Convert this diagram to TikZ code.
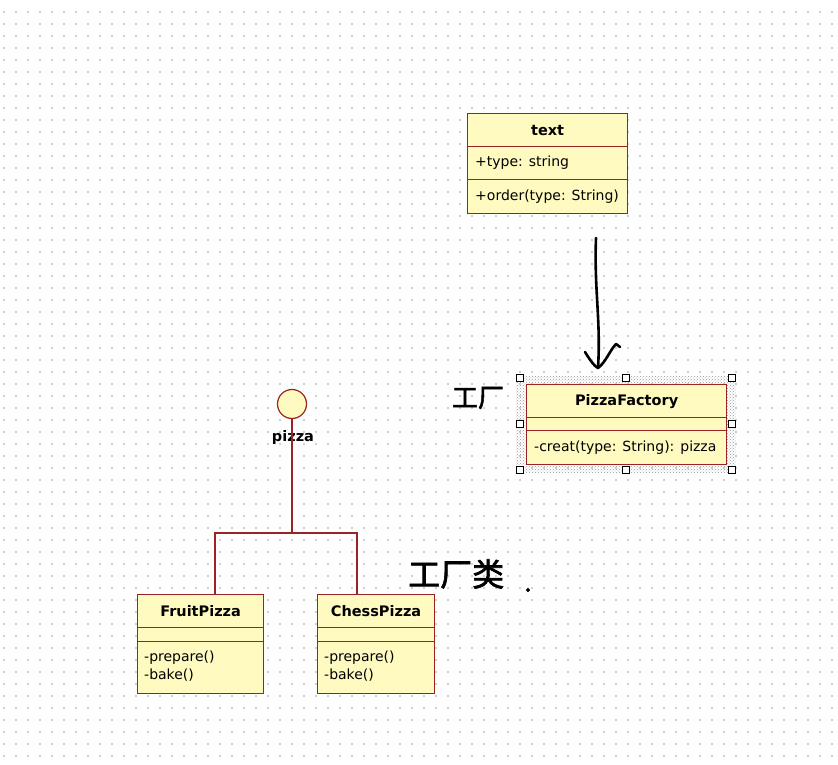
\documentclass[tikz,border=0pt]{standalone}
\usepackage{fontspec}
\setmainfont{DejaVu Sans}
\newfontfamily\cjk[FakeBold=2]{Noto Sans CJK SC}
\usetikzlibrary{patterns}
\definecolor{umlfill}{RGB}{255,250,192}
\definecolor{umlline}{RGB}{155,35,35}
\definecolor{griddot}{RGB}{208,208,208}
\begin{document}
\begin{tikzpicture}[x=1pt,y=-1pt,
  comp/.style={draw=umlline, fill=umlfill, line width=1.2pt, inner sep=0pt, anchor=north west},
  hd/.style={font=\fontsize{14.5}{16}\selectfont\bfseries, inner sep=0pt},
  body/.style={font=\fontsize{14}{16}\selectfont, anchor=west, inner sep=0pt},
  bodyml/.style={font=\fontsize{14}{18}\selectfont, anchor=north west, inner sep=0pt, align=left},
  handle/.style={draw=black, fill=white, minimum size=7pt, inner sep=0pt, line width=0.8pt},
  conn/.style={draw=umlline, line width=1.2pt},
  ink/.style={line width=2.6pt, line cap=round, line join=round, black},
  hand/.style={font=\cjk, inner sep=0pt, text=black}]
\fill[white] (0,0) rectangle (838,765);
\useasboundingbox (0,0) rectangle (838,765);
% dot grid
\foreach \i in {0,...,69} {
  \foreach \j in {1,...,63} {
    \fill[griddot] ({4+12*\i-0.7},{12*\j-0.7}) rectangle ++(1.4,1.4);
  }
}
% class "text"
\node[comp, minimum width=160pt, minimum height=33pt] (txth) at (467,113) {};
\node[hd] (txthl) at (txth.center) {text};
\node[comp, minimum width=160pt, minimum height=33pt] (txta) at (467,146) {};
\node[body] (txtal) at ([xshift=8pt]txta.west) {+type: string};
\node[comp, minimum width=160pt, minimum height=34pt] (txto) at (467,179) {};
\node[body] (txtol) at ([xshift=8pt]txto.west) {+order(type: String)};
% PizzaFactory (selected)
\node[pattern=crosshatch dots, pattern color=gray!80, minimum width=220pt, minimum height=96pt, inner sep=0pt, anchor=north west] (sel) at (516,376) {};
\node[comp, minimum width=200pt, minimum height=33pt] (pfh) at (526,384) {};
\node[hd] (pfhl) at (pfh.center) {PizzaFactory};
\node[comp, minimum width=200pt, minimum height=13pt] (pfa) at (526,417) {};
\node[comp, minimum width=200pt, minimum height=34pt] (pfo) at (526,430) {};
\node[body] (pfol) at ([xshift=8pt]pfo.west) {-creat(type: String): pizza};
\node[handle] (h1) at (520,378) {};
\node[handle] (h2) at (626,378) {};
\node[handle] (h3) at (732,378) {};
\node[handle] (h4) at (520,424) {};
\node[handle] (h5) at (732,424) {};
\node[handle] (h6) at (520,470) {};
\node[handle] (h7) at (626,470) {};
\node[handle] (h8) at (732,470) {};
% interface pizza
\node[draw=umlline, fill=umlfill, circle, minimum size=29pt, inner sep=0pt, line width=1.2pt] (pz) at (292,404) {};
\node[hd] (pzl) at (293,437) {pizza};
% FruitPizza
\node[comp, minimum width=126pt, minimum height=33pt] (frh) at (137,594) {};
\node[hd] (frhl) at (frh.center) {FruitPizza};
\node[comp, minimum width=126pt, minimum height=14pt] (fra) at (137,627) {};
\node[comp, minimum width=126pt, minimum height=52pt] (fro) at (137,641) {};
\node[bodyml] (frol) at (144,651) {-prepare()\\-bake()};
% ChessPizza
\node[comp, minimum width=117pt, minimum height=33pt] (chh) at (317,594) {};
\node[hd] (chhl) at (chh.center) {ChessPizza};
\node[comp, minimum width=117pt, minimum height=14pt] (cha) at (317,627) {};
\node[comp, minimum width=117pt, minimum height=52pt] (cho) at (317,641) {};
\node[bodyml] (chol) at (324,651) {-prepare()\\-bake()};
% realization connectors
\coordinate (j) at (292,533);
\coordinate (jf) at (215,533);
\coordinate (jc) at (357,533);
\draw[conn] (pz.south) -- (j);
\draw[conn] (jf |- frh.north) -- (jf) -- (jc) -- (jc |- chh.north);
% handwritten arrow
\coordinate (a0) at (596,238);
\coordinate (a1) at (598,368);
\draw[ink] (a0) .. controls (594,290) and (601,320) .. (a1);
\draw[ink] (585,352) .. controls (590,360) and (594,366) .. (a1) .. controls (606,362) and (610,350) .. (616,344) -- (620,347);
% handwritten notes
\node[hand, font=\cjk\fontsize{26}{26}\selectfont] (n1) at (478,398) {工厂};
\node[hand, font=\cjk\fontsize{32}{32}\selectfont, anchor=west] (n2) at (408,574) {工厂类};
\node[hand, font=\cjk\fontsize{26}{26}\selectfont] (n3) at (528,590) {.};
\end{tikzpicture}
\end{document}
